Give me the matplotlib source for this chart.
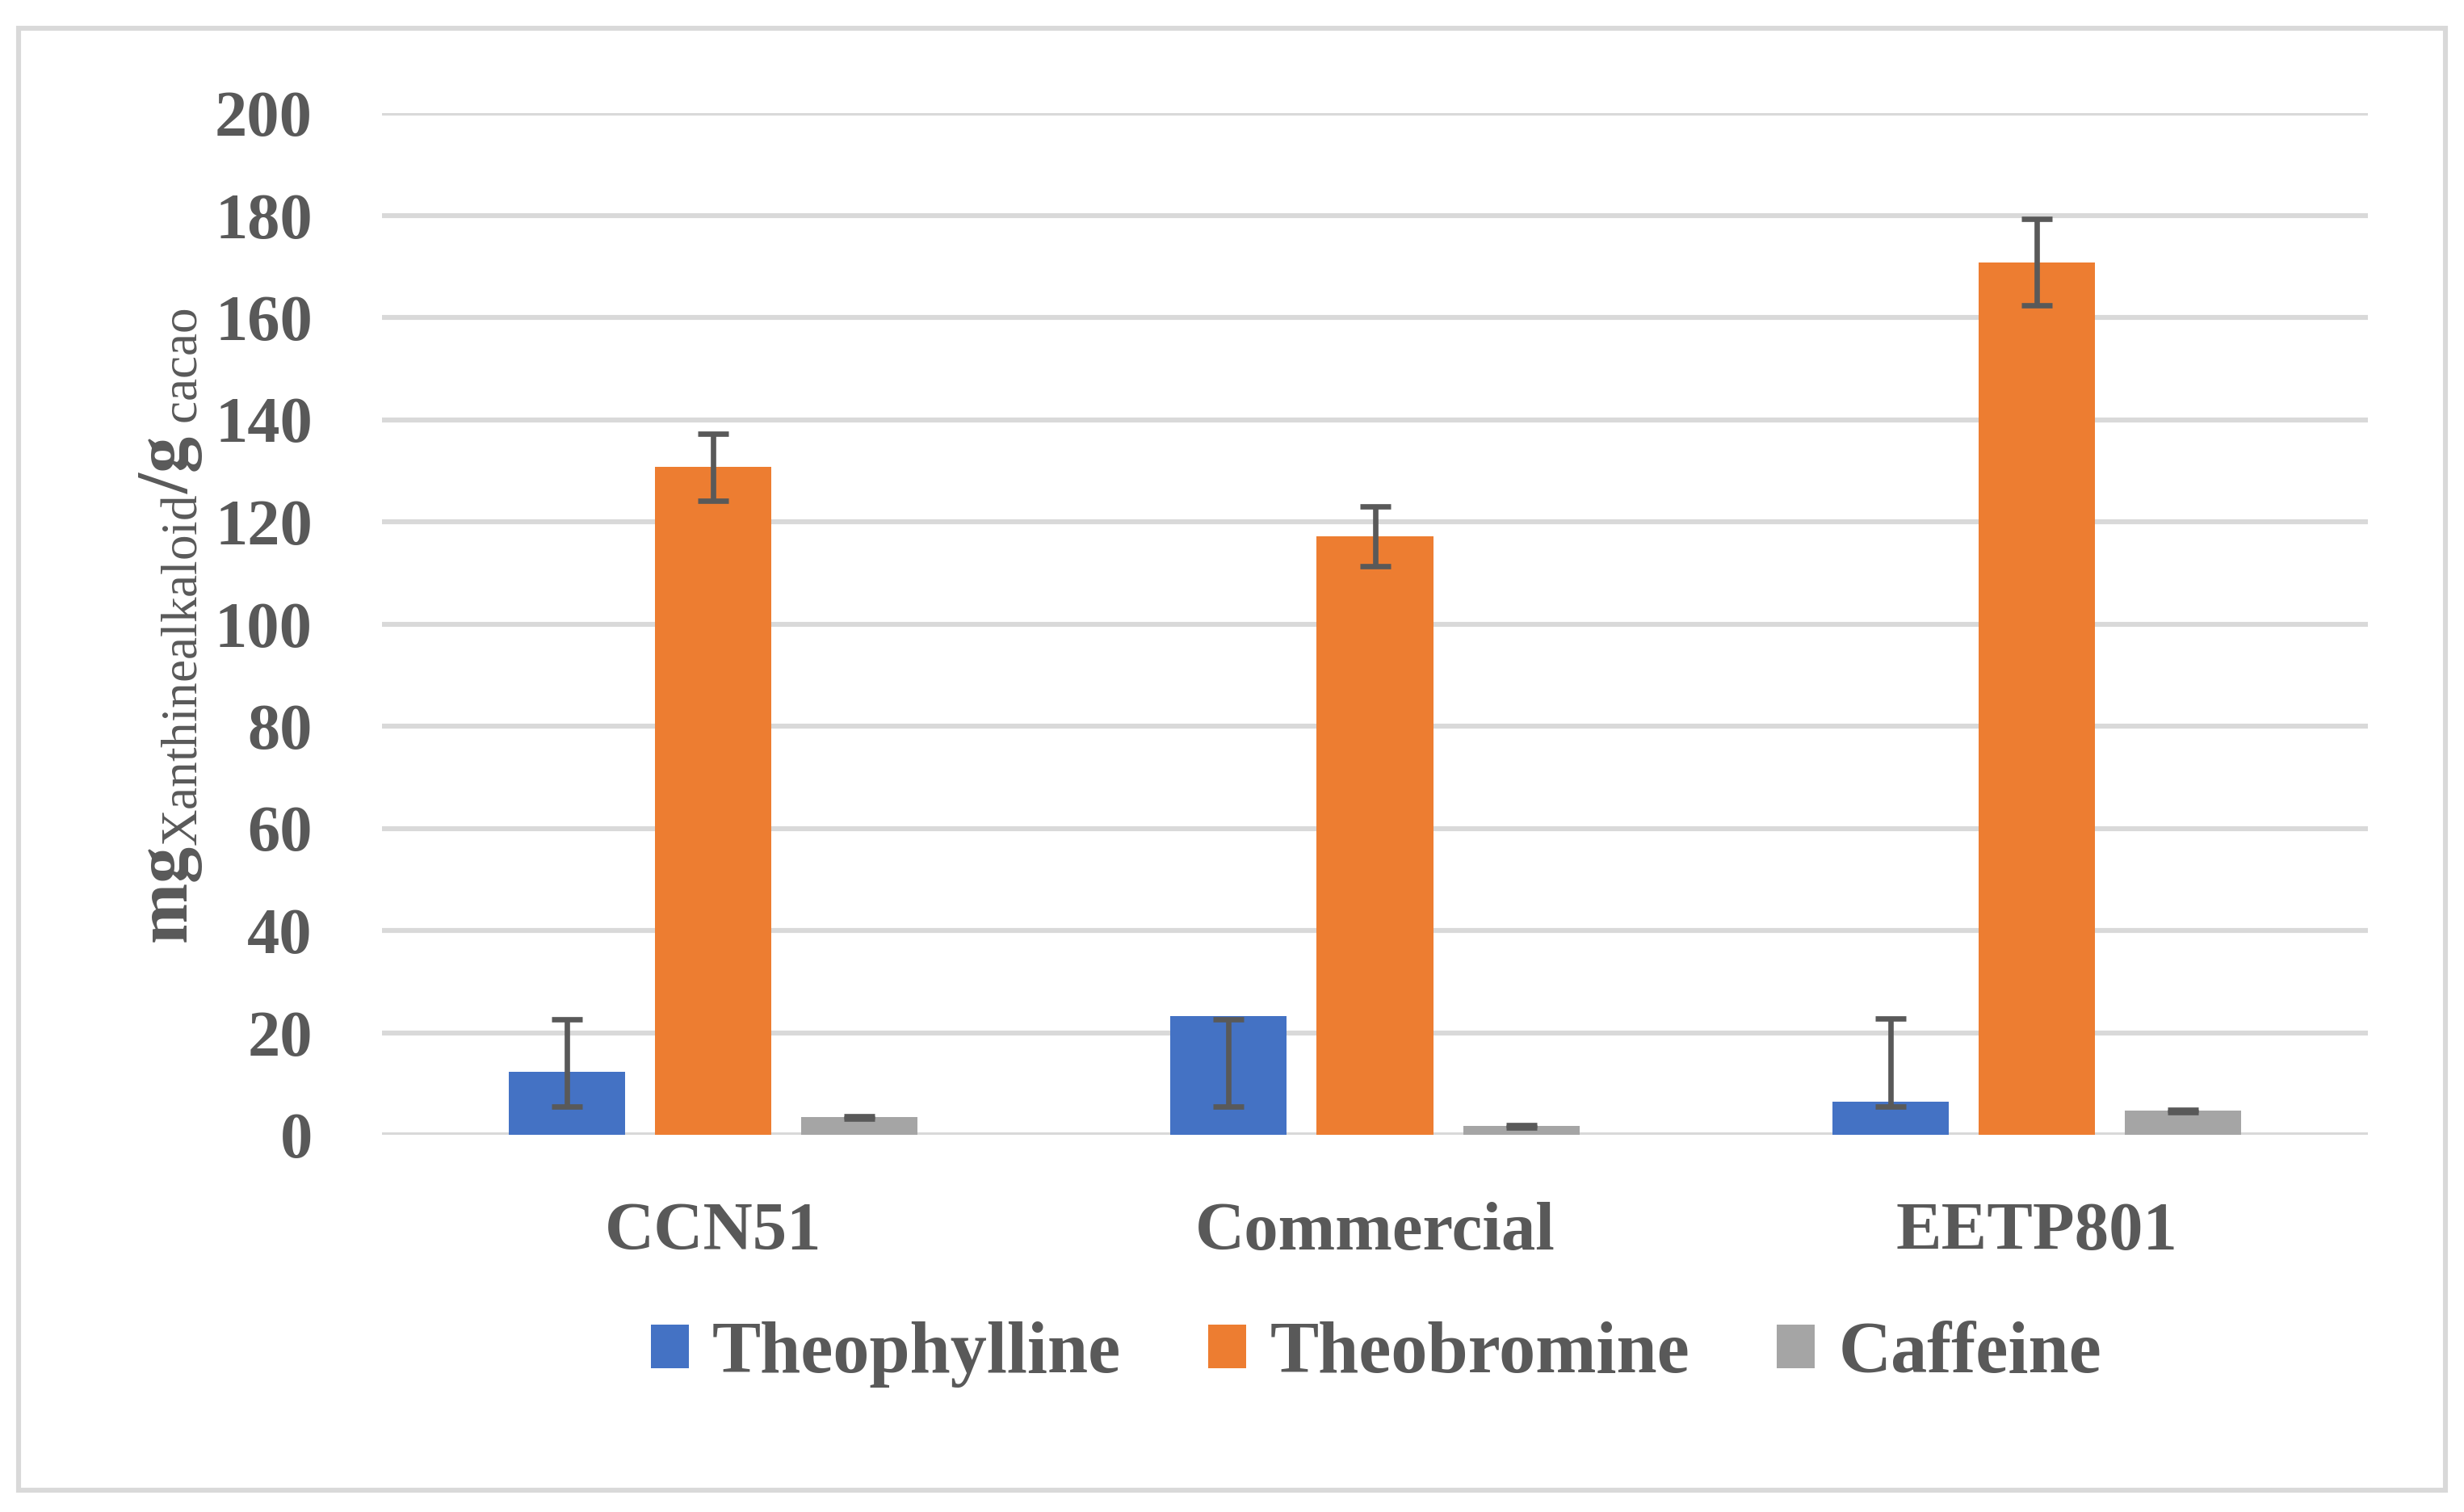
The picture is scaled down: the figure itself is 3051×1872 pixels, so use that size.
import matplotlib
matplotlib.use("Agg")
import matplotlib.pyplot as plt
import numpy as np
from matplotlib.patches import Rectangle

plt.rcParams['font.family'] = ['Liberation Serif', 'DejaVu Serif']
plt.rcParams['mathtext.fontset'] = 'custom'
plt.rcParams['mathtext.rm'] = 'Liberation Serif'
plt.rcParams['mathtext.it'] = 'Liberation Serif:italic'
plt.rcParams['mathtext.bf'] = 'Liberation Serif:bold'

categories = ["CCN51", "Commercial", "EETP801"]
series_names = ["Theophylline", "Theobromine", "Caffeine"]
theophylline = [12.4, 23.2, 6.5]
theobromine = [130.7, 117.1, 170.8]
caffeine = [3.4, 1.7, 4.7]
theophylline_low = [5.5, 5.5, 5.5]
theophylline_high = [22.6, 22.6, 22.7]
theobromine_low = [124.1, 111.3, 162.3]
theobromine_high = [137.2, 123.0, 179.3]
caffeine_low = [3.2, 1.5, 4.4]
caffeine_high = [3.7, 1.9, 4.9]
yticks = [0, 20, 40, 60, 80, 100, 120, 140, 160, 180, 200]

colors = ["#4472C4", "#ED7D31", "#A5A5A5"]
text_color = "#595959"
grid_color = "#D9D9D9"

W, H = 3051, 1872
dpi = 200
fig = plt.figure(figsize=(W / dpi, H / dpi), dpi=dpi)
fig.patch.set_facecolor("white")

# outer frame
fig.patches.append(Rectangle((23 / W, 1 - 1845 / H), (3028 - 23) / W, (1845 - 35) / H,
                             transform=fig.transFigure, fill=False,
                             edgecolor=grid_color, linewidth=2.2, zorder=0))

ax = fig.add_axes([473 / W, 1 - 1405 / H, (2932 - 473) / W, (1405 - 140) / H])
ax.set_xlim(-0.5, 2.5)
ax.set_ylim(0, 200)
for s in ax.spines.values():
    s.set_visible(False)
ax.set_axisbelow(True)
ax.yaxis.grid(True, color=grid_color, linewidth=2.2)
ax.set_yticks(yticks)
ax.set_yticklabels([str(t) for t in yticks])
ax.tick_params(axis='y', length=0, pad=31, labelsize=29, labelcolor=text_color)
ax.tick_params(axis='x', length=0, pad=30, labelsize=30.5, labelcolor=text_color)
for lab in ax.get_yticklabels() + ax.get_xticklabels():
    lab.set_fontweight('bold')

x = np.arange(len(categories))
width = 0.176
offset = 0.221
vals = [theophylline, theobromine, caffeine]
lows = [theophylline_low, theobromine_low, caffeine_low]
highs = [theophylline_high, theobromine_high, caffeine_high]
for i in range(3):
    xi = x + (i - 1) * offset
    ax.bar(xi, vals[i], width=width, color=colors[i], label=series_names[i], zorder=2)
    lo = np.array(lows[i])
    hi = np.array(highs[i])
    ax.errorbar(xi, lo, yerr=[np.zeros_like(lo), hi - lo], fmt='none',
                ecolor=text_color, elinewidth=2.4, capsize=6.8, capthick=2.4, zorder=3)

ax.set_xticks(x)
ax.set_xticklabels(categories)

fig.text(212 / W, 1 - 775 / H,
         r'$\mathbf{mg}_{\mathrm{Xanthinealkaloid}}\mathbf{/g}_{\mathrm{\ cacao}}$',
         rotation=90, ha='center', va='center', fontsize=32.5, color=text_color)

leg = fig.legend(loc='center', bbox_to_anchor=(1704 / W, 1 - 1677 / H), ncol=3,
                 frameon=False, prop={'size': 32.5, 'weight': 'bold'},
                 handlelength=0.52, handleheight=0.55, handletextpad=0.32,
                 columnspacing=1.2, labelcolor=text_color)

fig.savefig("out.png", dpi=dpi, facecolor="white")
